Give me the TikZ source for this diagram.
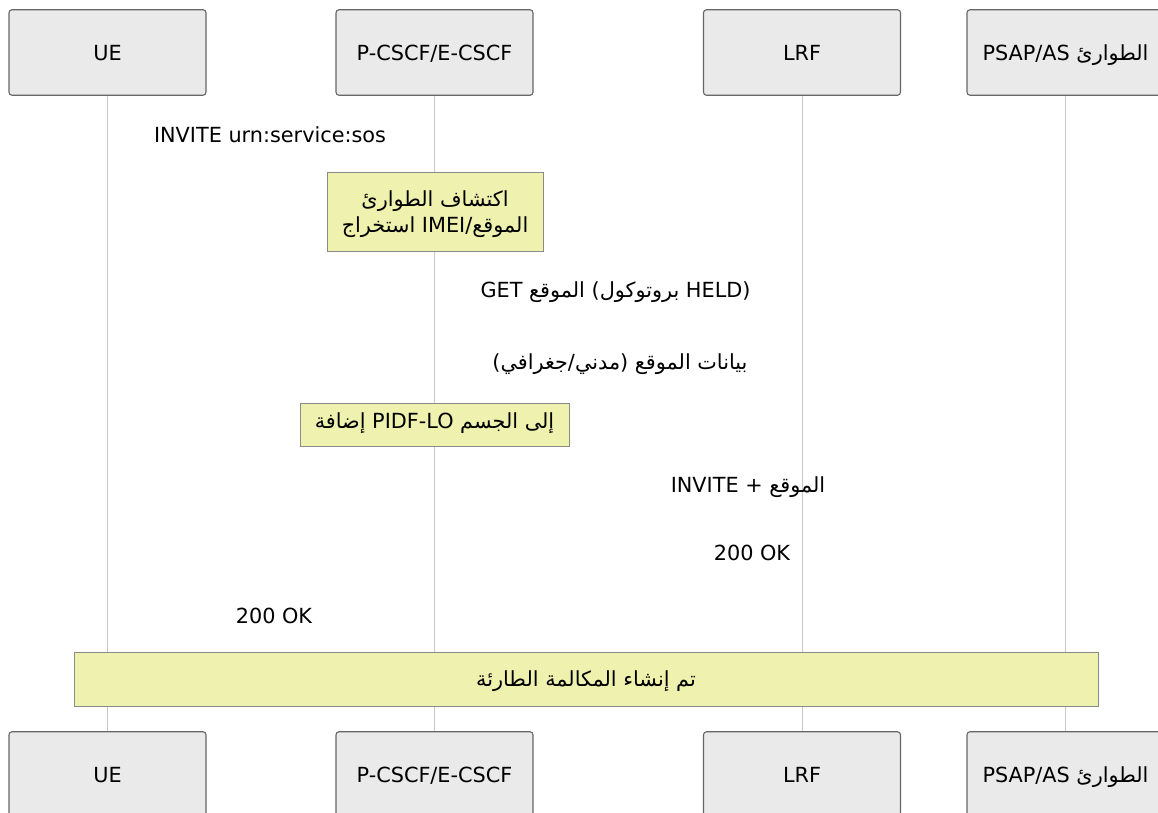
\documentclass[tikz,border=0pt]{standalone}
\usepackage{fontspec}
\setmainfont{DejaVu Sans}
\newfontfamily\arabicfont[Script=Arabic]{DejaVu Sans}
\newcommand\ar[1]{{\arabicfont #1}}
\TeXXeTstate=1
\definecolor{actorfill}{HTML}{EAEAEA}
\definecolor{actorline}{HTML}{666666}
\definecolor{lifeline}{HTML}{C8C8C8}
\definecolor{notefill}{HTML}{EEF2AE}
\definecolor{noteline}{HTML}{8A8A8A}
\tikzset{
  actor/.style={draw=actorline, fill=actorfill, line width=1.1pt, rounded corners=3pt,
    minimum width=197pt, minimum height=85.5pt, inner sep=0pt,
    text height=15.2pt, text depth=0pt},
  lifel/.style={draw=lifeline, line width=1pt},
  notebox/.style={draw=noteline, fill=notefill, line width=1pt, inner sep=0pt},
  msg/.style={anchor=base, inner sep=0pt},
}
\begin{document}
\begin{tikzpicture}[x=1pt,y=-1pt, font=\fontsize{20.8}{26}\selectfont]
\useasboundingbox (0,0) rectangle (1158,812);
\clip (0,0) rectangle (1158,812);
\fill[white] (0,0) rectangle (1158,812);
% top actors
\node[actor] (ue) at (107.5,52.5) {UE};
\node[actor] (pc) at (434.5,52.5) {P-CSCF/E-CSCF};
\node[actor] (lrf) at (802,52.5) {LRF};
\node[actor] (ps) at (1065.5,52.5) {PSAP/AS \ar{الطوارئ}};
% bottom actors
\node[actor] (ueb) at (107.5,774.5) {UE};
\node[actor] (pcb) at (434.5,774.5) {P-CSCF/E-CSCF};
\node[actor] (lrfb) at (802,774.5) {LRF};
\node[actor] (psb) at (1065.5,774.5) {PSAP/AS \ar{الطوارئ}};
% lifelines
\draw[lifel] (ue.south) -- (ueb.north);
\draw[lifel] (pc.south) -- (pcb.north);
\draw[lifel] (lrf.south) -- (lrfb.north);
\draw[lifel] (ps.south) -- (psb.north);
% messages and notes
\node[msg] (m1) at (270,142) {INVITE urn:service:sos};
\node[notebox, minimum width=216pt, minimum height=79pt] (n1) at (435,211.5) {};
\node[msg] (n1a) at (435,206) {\beginR\ar{اكتشاف الطوارئ}\endR};
\node[msg] (n1b) at (435,232) {\ar{استخراج} IMEI/\ar{الموقع}};
\node[msg] (m2) at (615.5,297) {GET \ar{الموقع} (\ar{بروتوكول} HELD)};
\node[msg] (m3) at (620,369) {\beginR\ar{بيانات الموقع (مدني/جغرافي)}\endR};
\node[notebox, minimum width=269pt, minimum height=43pt] (n2) at (434.5,424.5) {};
\node[msg] (n2a) at (434.5,428) {\ar{إضافة} PIDF-LO \beginR\ar{إلى الجسم}\endR};
\node[msg] (m4) at (748,492) {INVITE + \ar{الموقع}};
\node[msg] (m5) at (752,560) {200 OK};
\node[msg] (m6) at (274,623) {200 OK};
\node[notebox, minimum width=1024pt, minimum height=54pt] (n3) at (586,679) {};
\node[msg] (n3a) at (586,686) {\beginR\ar{تم إنشاء المكالمة الطارئة}\endR};
\end{tikzpicture}
\end{document}
